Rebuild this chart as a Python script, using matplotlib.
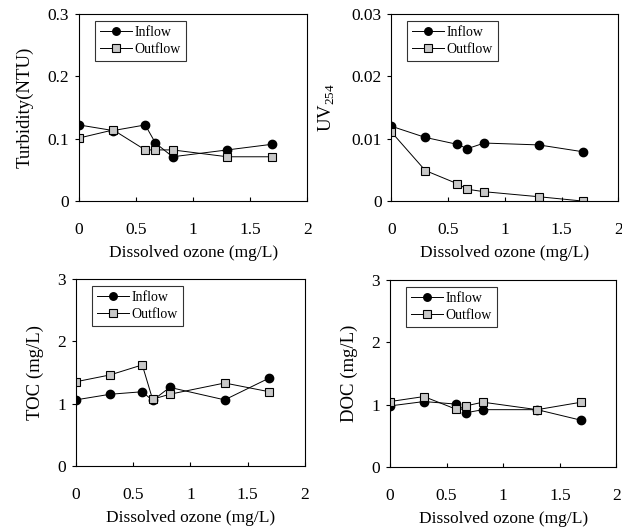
import numpy as np
import matplotlib
matplotlib.use('Agg')
import matplotlib.pyplot as plt

plt.rcParams['font.family'] = ['Liberation Serif', 'DejaVu Serif']
plt.rcParams['mathtext.fontset'] = 'custom'
plt.rcParams['mathtext.rm'] = 'Liberation Serif'

# dissolved ozone (mg/L), same points in every panel
ozone = [0, 0.3, 0.58, 0.67, 0.82, 1.3, 1.69]

turb_in = [0.122, 0.113, 0.122, 0.093, 0.071, 0.082, 0.091]
turb_out = [0.101, 0.114, 0.082, 0.082, 0.082, 0.071, 0.071]

uv_in = [0.0120, 0.0102, 0.0091, 0.0084, 0.0093, 0.0090, 0.0079]
uv_out = [0.0111, 0.0049, 0.0028, 0.0019, 0.0015, 0.0007, 0.0]

toc_in = [1.06, 1.15, 1.19, 1.05, 1.26, 1.06, 1.41]
toc_out = [1.35, 1.46, 1.62, 1.07, 1.15, 1.33, 1.19]

doc_in = [0.98, 1.05, 1.01, 0.87, 0.92, 0.92, 0.75]
doc_out = [1.05, 1.13, 0.93, 0.98, 1.04, 0.92, 1.04]

x_ticks = [0, 0.5, 1, 1.5, 2]
x_labels = ['0', '0.5', '1', '1.5', '2']

panels = [
    # (inflow, outflow, ylabel, yticks, yticklabels, axes rect)
    (turb_in, turb_out, 'Turbidity(NTU)', [0, 0.1, 0.2, 0.3],
     ['0', '0.1', '0.2', '0.3'], [0.127, 0.622, 0.367, 0.352]),
    (uv_in, uv_out, r'UV$_{\mathregular{254}}$', [0, 0.01, 0.02, 0.03],
     ['0', '0.01', '0.02', '0.03'], [0.629, 0.622, 0.365, 0.352]),
    (toc_in, toc_out, 'TOC (mg/L)', [0, 1, 2, 3],
     ['0', '1', '2', '3'], [0.122, 0.124, 0.368, 0.352]),
    (doc_in, doc_out, 'DOC (mg/L)', [0, 1, 2, 3],
     ['0', '1', '2', '3'], [0.627, 0.122, 0.364, 0.352]),
]

fig = plt.figure(figsize=(6.22, 5.32), dpi=100)

for inflow, outflow, ylabel, yticks, ylabels, rect in panels:
    ax = fig.add_axes(rect)
    ax.plot(ozone, inflow, color='black', lw=0.7, marker='o', ms=6,
            mfc='black', mec='black', label='Inflow')
    ax.plot(ozone, outflow, color='black', lw=0.7, marker='s', ms=6,
            mfc='#c8c8c8', mec='black', mew=0.8, label='Outflow')
    ax.set_xlim(0, 2)
    ax.set_ylim(yticks[0], yticks[-1])
    ax.set_xticks(x_ticks)
    ax.set_xticklabels(x_labels)
    ax.set_yticks(yticks)
    ax.set_yticklabels(ylabels)
    ax.tick_params(axis='x', direction='in', length=3, pad=15, labelsize=12.5)
    ax.tick_params(axis='y', direction='out', length=3, pad=4, labelsize=12.5)
    ax.set_xlabel('Dissolved ozone (mg/L)', fontsize=12.5, labelpad=5)
    ax.set_ylabel(ylabel, fontsize=13.5, labelpad=10)
    for sp in ax.spines.values():
        sp.set_linewidth(0.8)
    leg = ax.legend(loc='upper left', bbox_to_anchor=(0.07, 0.96),
                    fontsize=10, frameon=True, fancybox=False,
                    handlelength=2.3, borderpad=0.35, labelspacing=0.3,
                    handletextpad=0.2, borderaxespad=0, markerscale=0.9)
    leg.get_frame().set_edgecolor('black')
    leg.get_frame().set_linewidth(0.8)

fig.savefig('out.png', dpi=100)
